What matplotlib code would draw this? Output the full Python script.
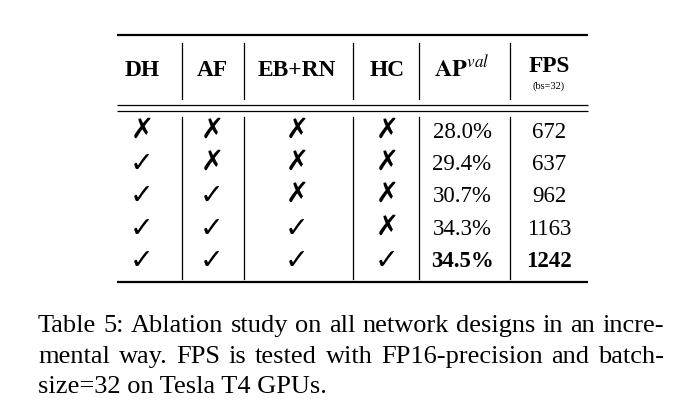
import matplotlib
matplotlib.use("Agg")
import matplotlib.pyplot as plt
from matplotlib.lines import Line2D

plt.rcParams['mathtext.fontset'] = 'stix'

# ---- data ----
headers = ["DH", "AF", "EB+RN", "HC"]
dh = [False, True, True, True, True]
af = [False, False, True, True, True]
eb_rn = [False, False, False, True, True]
hc = [False, False, False, False, True]
ap_val = [28.0, 29.4, 30.7, 34.3, 34.5]
fps = [672, 637, 962, 1163, 1242]
best_row = 4
caption_lines = [
    "Table 5: Ablation study on all network designs in an incre-",
    "mental way.  FPS is tested with FP16-precision and batch-",
    "size=32 on Tesla T4 GPUs.",
]

W, H = 688, 415
fig = plt.figure(figsize=(W / 100, H / 100), dpi=100)
ax = fig.add_axes([0, 0, 1, 1])
ax.set_xlim(0, W)
ax.set_ylim(H, 0)
ax.axis('off')

SERIF = ['Liberation Serif', 'DejaVu Serif']
MARK = ['DejaVu Sans']

col_x = [142, 212, 297, 387, 462, 549]
vlines_x = [182, 244, 353, 419, 510]
x0, x1 = 117, 588
header_y = 70
row_y = [132, 164, 196, 229, 261]

# rules
def hline(y, lw):
    ax.add_line(Line2D([x0, x1], [y, y], color='black', lw=lw, solid_capstyle='butt'))

hline(35, 1.6)
hline(105, 0.9)
hline(111, 0.9)
hline(282, 1.6)
for vx in vlines_x:
    ax.add_line(Line2D([vx, vx], [43, 99], color='black', lw=0.9))
    ax.add_line(Line2D([vx, vx], [117, 279], color='black', lw=0.9))

# header
for i, h in enumerate(headers):
    ax.text(col_x[i], header_y, h, family=SERIF, weight='bold', fontsize=16.8,
            ha='center', va='center')
ax.text(col_x[4], header_y - 1, r'$\mathbf{AP}^{val}$', fontsize=17.5, ha='center', va='center')
ax.text(col_x[5], header_y - 3, 'FPS', family=SERIF, weight='bold', fontsize=16.8,
        ha='center', va='center')
ax.text(col_x[5], 86, '(bs=32)', family=SERIF, fontsize=7.5, ha='center', va='center')

# body
flags = [dh, af, eb_rn, hc]
for r in range(len(ap_val)):
    y = row_y[r]
    for c, col in enumerate(flags):
        if col[r]:
            ax.text(col_x[c], y, '\u2713', family=MARK, fontsize=20.5, ha='center',
                    va='center', weight='bold')
        else:
            ax.text(col_x[c], y - 2, '\u2717', family=MARK, fontsize=20, ha='center',
                    va='center', weight='bold')
    wt = 'bold' if r == best_row else 'normal'
    ax.text(col_x[4], y, f"{ap_val[r]:.1f}%", family=SERIF, weight=wt, fontsize=16.5,
            ha='center', va='center')
    ax.text(col_x[5], y, f"{fps[r]}", family=SERIF, weight=wt, fontsize=16.5,
            ha='center', va='center')

# caption (justified); font size fitted so the first line fills the text width
cap_left, cap_right = 38, 664
fig.canvas.draw()
renderer = fig.canvas.get_renderer()
probe = ax.text(0, 0, caption_lines[0], family=SERIF, fontsize=10)
nat = probe.get_window_extent(renderer).width
probe.remove()
cap_fs = 10 * (cap_right - cap_left - 8) / nat
line_gap = cap_fs * 100 / 72 * 1.16
baselines = [332 + i * line_gap for i in range(len(caption_lines))]
for li, line in enumerate(caption_lines):
    if li == len(caption_lines) - 1:
        ax.text(cap_left, baselines[li], line, family=SERIF, fontsize=cap_fs,
                ha='left', va='baseline')
        continue
    words = line.split()
    objs = [ax.text(0, baselines[li], w, family=SERIF, fontsize=cap_fs, ha='left',
                    va='baseline') for w in words]
    widths = [o.get_window_extent(renderer).width for o in objs]
    gap = (cap_right - cap_left - sum(widths)) / (len(words) - 1)
    x = cap_left
    for o, wdt in zip(objs, widths):
        o.set_x(x)
        x += wdt + gap

fig.savefig('out.png', dpi=100)
